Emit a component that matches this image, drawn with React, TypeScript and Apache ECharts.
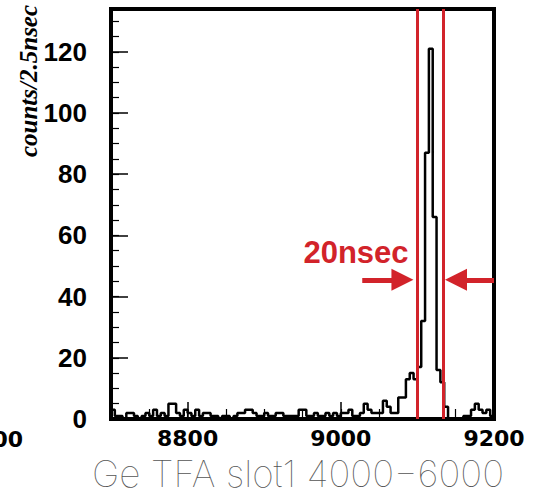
import React, { useEffect, useRef } from "react";
import * as echarts from "echarts";

// histogram: bins of 5 channels starting at 8700
const binStart = 8700;
const binWidth = 5;
const counts = [
  3, 1, 1, 0, 2, 2, 1, 0, 1, 2,
  1, 3, 1, 2, 1, 5, 5, 2, 1, 3,
  2, 1, 3, 1, 2, 2, 1, 1, 0, 1,
  1, 0, 1, 2, 2, 3, 3, 2, 1, 1,
  2, 1, 1, 2, 2, 1, 1, 1, 1, 3,
  3, 1, 1, 2, 1, 1, 2, 1, 2, 1,
  2, 2, 3, 1, 1, 2, 5, 3, 2, 2,
  2, 6, 4, 2, 2, 7, 7, 13, 15, 13,
  17, 32, 87, 121, 66, 16, 12, 4, 0, 0,
  0, 0, 1, 1, 3, 5, 3, 2, 3, 1,
];

const xMin = 8700;
const xMax = 9200;
const yMin = 0;
const yMax = 134;
const xMajorTicks = [8800, 9000, 9200];
const xMinorStep = 50;
const yMajorTicks = [0, 20, 40, 60, 80, 100, 120];
const yMinorStep = 5;

const windowLines = [9100, 9134];
const arrowLevel = 45.5;
const leftArrow = [9028, 9080.5];
const rightArrow = [9200, 9150.4];

const xTitle = "Ge TFA slot1 4000−6000";
const yTitle = "counts/2.5nsec";
const windowLabel = "20nsec";
const neighbourLabel = "00";

const RED = "#d2232a";

export default function App() {
  const ref = useRef<HTMLDivElement>(null);

  useEffect(() => {
    const chart = echarts.init(ref.current!, null, { renderer: "svg" });
    const points: number[][] = counts.map((c, i) => [binStart + i * binWidth, c]);
    points.push([binStart + counts.length * binWidth, counts[counts.length - 1]]);

    const redSolid = { color: RED, type: "solid" as const };

    chart.setOption({
      animation: false,
      backgroundColor: "#fff",
      grid: {
        left: 111,
        top: 9,
        right: 41,
        bottom: 77,
        show: true,
        borderColor: "#000",
        borderWidth: 4,
        backgroundColor: "transparent",
        containLabel: false,
        outerBoundsMode: "none",
      },
      xAxis: [
        {
          type: "value",
          min: xMin,
          max: xMax,
          position: "bottom",
          axisLine: { show: false },
          splitLine: { show: false },
          axisTick: {
            show: true,
            inside: true,
            length: 17,
            customValues: xMajorTicks,
            lineStyle: { color: "#000", width: 1.5 },
          },
          axisLabel: {
            customValues: xMajorTicks,
            margin: 8,
            formatter: (v: number) => String(v),
            fontFamily: "DejaVu Sans",
            fontWeight: "bold",
            fontSize: 22,
            lineHeight: 22,
            color: "#000",
          },
        },
        {
          type: "value",
          min: xMin,
          max: xMax,
          interval: xMinorStep,
          position: "bottom",
          axisLine: { show: false },
          splitLine: { show: false },
          axisLabel: { show: false },
          axisTick: {
            show: true,
            inside: true,
            length: 10,
            lineStyle: { color: "#000", width: 1.2 },
          },
        },
      ],
      yAxis: [
        {
          type: "value",
          min: yMin,
          max: yMax,
          position: "left",
          axisLine: { show: false },
          splitLine: { show: false },
          axisTick: {
            show: true,
            inside: true,
            length: 17,
            customValues: yMajorTicks,
            lineStyle: { color: "#000", width: 1.5 },
          },
          axisLabel: {
            customValues: yMajorTicks,
            margin: 24,
            fontFamily: "Liberation Sans",
            fontWeight: "bold",
            fontSize: 26,
            color: "#000",
          },
        },
        {
          type: "value",
          min: yMin,
          max: yMax,
          interval: yMinorStep,
          position: "left",
          offset: 0,
          axisLine: { show: false },
          splitLine: { show: false },
          axisLabel: { show: false },
          axisTick: {
            show: true,
            inside: true,
            length: 8,
            lineStyle: { color: "#000", width: 1.2 },
          },
        },
      ],
      series: [
        {
          type: "line",
          xAxisIndex: 0,
          yAxisIndex: 0,
          data: points,
          step: "end",
          symbol: "none",
          showSymbol: false,
          silent: true,
          lineStyle: { color: "#000", width: 2.5 },
          z: 2,
          markLine: {
            silent: true,
            z: 5,
            symbol: ["none", "none"],
            symbolSize: 22,
            label: { show: false },
            emphasis: { disabled: true },
            itemStyle: { color: RED },
            lineStyle: { ...redSolid, width: 3 },
            data: [
              ...windowLines.map((v) => ({
                xAxis: v,
                lineStyle: { ...redSolid, width: 3 },
              })),
              [
                {
                  coord: [leftArrow[0], arrowLevel],
                  symbol: "none",
                  lineStyle: { ...redSolid, width: 5 },
                },
                { coord: [leftArrow[1], arrowLevel], symbol: "triangle", symbolSize: 22 },
              ],
              [
                {
                  coord: [rightArrow[0], arrowLevel],
                  symbol: "none",
                  lineStyle: { ...redSolid, width: 5 },
                },
                { coord: [rightArrow[1], arrowLevel], symbol: "triangle", symbolSize: 22 },
              ],
            ],
          },
        },
      ],
      graphic: [
        {
          type: "text",
          x: 28,
          y: 81,
          rotation: Math.PI / 2,
          style: {
            text: yTitle,
            font: 'italic bold 25px "Liberation Serif"',
            fill: "#000",
            textAlign: "center",
            textVerticalAlign: "middle",
            align: "center",
            verticalAlign: "middle",
          },
        },
        {
          type: "text",
          x: 298,
          y: 473,
          style: {
            text: xTitle,
            font: '100 37px Inter',
            lineHeight: 30,
            fill: "#555",
            textAlign: "center",
            textVerticalAlign: "middle",
            align: "center",
            verticalAlign: "middle",
          },
        },
        {
          type: "text",
          x: 356,
          y: 252,
          style: {
            text: windowLabel,
            font: 'bold 31px "Liberation Sans"',
            fill: RED,
            textAlign: "center",
            textVerticalAlign: "middle",
            align: "center",
            verticalAlign: "middle",
          },
        },
        {
          type: "text",
          x: 23,
          y: 439,
          style: {
            text: neighbourLabel,
            font: 'bold 22px "DejaVu Sans"',
            fill: "#000",
            textAlign: "right",
            textVerticalAlign: "middle",
            align: "right",
            verticalAlign: "middle",
          },
        },
      ],
    });

    return () => chart.dispose();
  }, []);

  return (
    <div
      ref={ref}
      style={{ position: "fixed", left: 0, top: 0, width: 535, height: 496, background: "#fff" }}
    />
  );
}
